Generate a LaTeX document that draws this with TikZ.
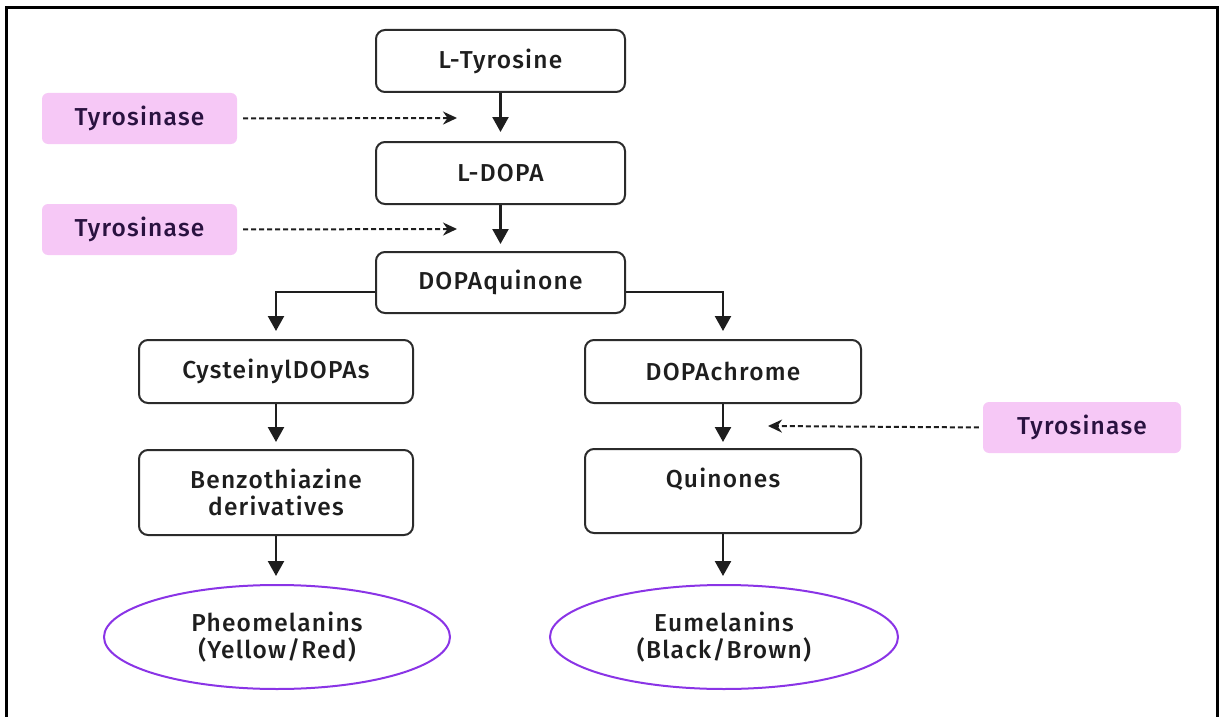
\documentclass[tikz,border=0pt]{standalone}
\usepackage{fontspec}
\setmainfont{Fira Sans Medium}[LetterSpace=5]
\usetikzlibrary{arrows.meta,shapes.geometric}
\definecolor{enz}{HTML}{F6C8F6}
\definecolor{enztext}{HTML}{2A1240}
\definecolor{ellline}{HTML}{8A34E6}
\definecolor{boxline}{HTML}{2B2B2B}
\definecolor{txt}{HTML}{1E1E1E}
\begin{document}
\begin{tikzpicture}[x=1pt,y=-1pt,
  lbl/.style={font=\fontsize{24.5}{27}\selectfont},
  stepbox/.style={lbl, draw=boxline, line width=2pt, rounded corners=9pt, minimum width=249pt, minimum height=62pt, align=center, text=txt, inner sep=0pt},
  widebox/.style={stepbox, minimum width=275pt},
  enzbox/.style={lbl, fill=enz, rounded corners=6pt, minimum width=195pt, minimum height=51pt, text=enztext, inner sep=0pt},
  prod/.style={lbl, ellipse, draw=ellline, line width=2pt, minimum width=346pt, minimum height=104pt, align=center, text=txt, inner sep=0pt},
  flow/.style={draw=txt, line width=2.4pt, -{Triangle[length=15pt,width=16pt]}},
  enzarrow/.style={draw=txt, line width=2pt, dash pattern=on 5pt off 3pt, -{Stealth[length=14pt,width=13pt]}}
]
\useasboundingbox (0,0) rectangle (1219,717);
\draw[line width=2.5pt] (6.5,717) -- (6.5,7.5) -- (1217.5,7.5) -- (1217.5,717);

% main column
\node[stepbox] (tyr) at (500.5,61) {L-Tyrosine};
\node[stepbox] (dopa) at (500.5,173) {L-DOPA};
\node[stepbox, minimum height=61pt] (dq) at (500.5,282.5) {DOPAquinone};

% left branch
\node[widebox, minimum width=274pt, minimum height=63pt] (cys) at (276,371.5) {CysteinylDOPAs};
\node[widebox, minimum width=274pt, minimum height=85pt] (bzt) at (276,492.5) {Benzothiazine\\derivatives};
\node[prod] (pheo) at (277,637) {Pheomelanins\\(Yellow/Red)};

% right branch
\node[widebox, minimum width=276pt, minimum height=63pt] (dc) at (723,371.5) {DOPAchrome};
\node[widebox, minimum width=276pt, minimum height=84pt] (qu) at (723,491) {Quinones\\~};
\node[prod, minimum width=348pt] (eu) at (724,637) {Eumelanins\\(Black/Brown)};

% enzymes
\node[enzbox] (t1) at (139.5,118.5) {Tyrosinase};
\node[enzbox] (t2) at (139.5,229.5) {Tyrosinase};
\node[enzbox, minimum width=198pt] (t3) at (1082,427.5) {Tyrosinase};
\coordinate (e1) at (457,118);
\coordinate (e2) at (457,229);
\coordinate (e3) at (768,426);

% flow arrows
\draw[flow, shorten >=9pt] (tyr.south) -- (dopa.north);
\draw[flow, shorten >=7pt] (dopa.south) -- (dq.north);
\draw[flow, shorten >=8pt] ([yshift=-9.5pt]dq.west) -| (cys.north);
\draw[flow, shorten >=8pt] ([yshift=-9.5pt]dq.east) -| (dc.north);
\draw[flow, shorten >=7pt] (cys.south) -- (bzt.north);
\draw[flow, shorten >=8pt] (bzt.south) -- (bzt.south |- pheo.north);
\draw[flow, shorten >=6pt] (dc.south) -- (qu.north);
\draw[flow, shorten >=8pt] (qu.south) -- (qu.south |- eu.north);

% enzyme arrows
\draw[enzarrow, shorten <=6pt] (t1.east) -- (e1);
\draw[enzarrow, shorten <=6pt] (t2.east) -- (e2);
\draw[enzarrow, shorten <=4pt] (t3.west) -- (e3);
\end{tikzpicture}
\end{document}
